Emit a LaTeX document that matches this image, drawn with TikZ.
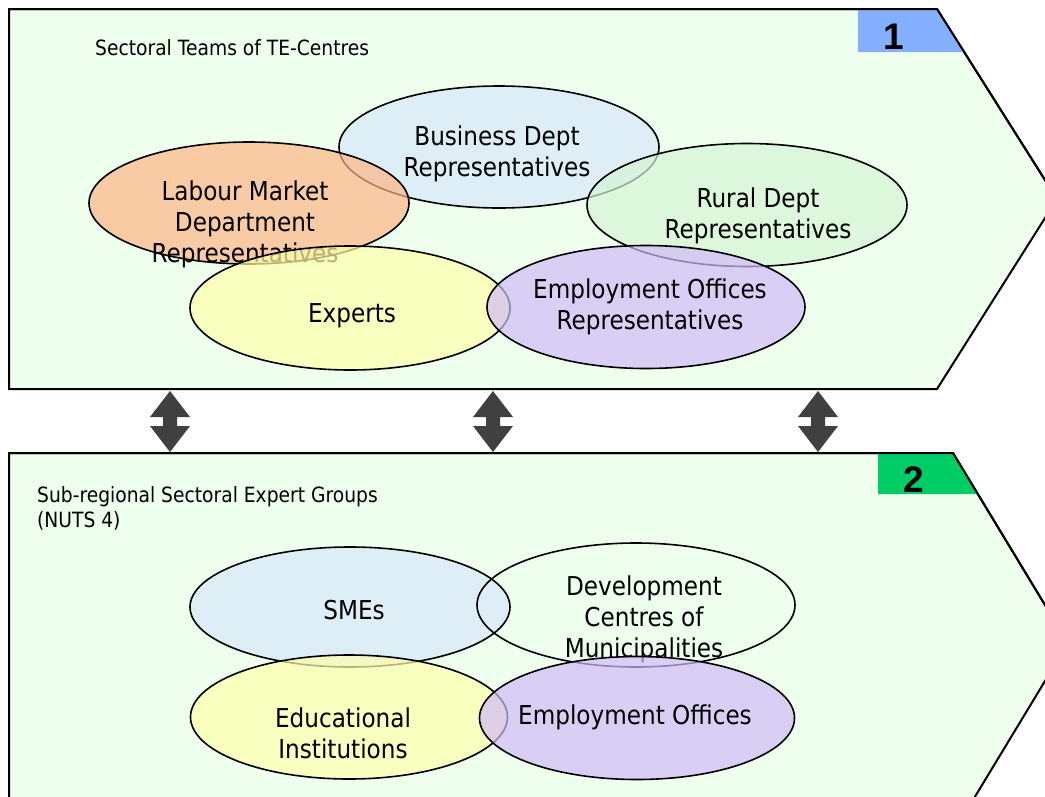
\documentclass[tikz,border=0pt]{standalone}
\usepackage{fontspec}
\setmainfont{DejaVu Sans}[FakeStretch=0.89]
\newfontfamily\numfont{Liberation Sans}
\usetikzlibrary{shapes, positioning}
\definecolor{panelbg}{RGB}{238,255,238}
\definecolor{tagblue}{RGB}{132,176,255}
\definecolor{taggreen}{RGB}{0,204,102}
\definecolor{arrowgrey}{RGB}{64,64,64}
\definecolor{bluefill}{RGB}{215,231,252}
\definecolor{orangefill}{RGB}{254,181,134}
\definecolor{greenfill}{RGB}{215,245,215}
\definecolor{yellowfill}{RGB}{255,255,172}
\definecolor{lilacfill}{RGB}{209,188,247}
\tikzset{x=1pt, y=-1pt,
    panel/.style={draw, line width=2pt, fill=panelbg},
    blob/.style={ellipse, draw, line width=1.6pt, fill opacity=0.7, minimum width=320pt, minimum height=122pt, inner sep=0pt},
    blobtext/.style={align=center, inner sep=0pt, font=\fontsize{26}{31}\selectfont},
    title/.style={align=left, inner sep=0pt, font=\fontsize{21}{25}\selectfont},
    tagnum/.style={inner sep=0pt, font=\numfont\bfseries\fontsize{37}{37}\selectfont}}

\begin{document}
\begin{tikzpicture}
    \useasboundingbox (0,0) rectangle (1045,796);
    \clip (0,0) rectangle (1045,796);

    % panels
    \draw[panel] (9,9) -- (937,9) -- (1057,199) -- (937,389) -- (9,389) -- cycle;
    \draw[panel] (9,453) -- (953,453) -- (1068,643) -- (953,833) -- (9,833) -- cycle;
    \fill[tagblue] (858,10) -- (937,10) -- (964,52) -- (858,52) -- cycle;
    \fill[taggreen] (878,454) -- (953,454) -- (978,494) -- (878,494) -- cycle;
    \draw[line width=2pt] (9,9) -- (937,9) -- (1057,199);
    \draw[line width=2pt] (9,453) -- (953,453) -- (1068,643);
    \node[tagnum] (one) at (894,37) {1};
    \node[tagnum] (two) at (914,480) {2};

    \node[title, anchor=base west] (teams) at (95,55) {Sectoral Teams of TE-Centres};
    \node[title, anchor=north west] (groups) at (37,486) {Sub-regional Sectoral Expert Groups\\(NUTS 4)};

    % arrows between the panels
    \foreach \x in {170,493,818}
        \fill[arrowgrey] (\x,391) -- (\x+20,417) -- (\x+7,417) -- (\x+7,426) -- (\x+20,426) -- (\x,452)
            -- (\x-20,426) -- (\x-7,426) -- (\x-7,417) -- (\x-20,417) -- cycle;

    % panel 1
    \node[blob, fill=bluefill] (business) at (499,147) {};
    \node[blobtext] (businesstxt) at (497,154) {Business Dept\\Representatives};
    \node[blob, fill=orangefill] (labour) at (249,203) {};
    \node[blobtext] (labourtxt) at (245,224) {Labour Market\\Department\\Representatives};
    \node[blob, fill=greenfill, minimum height=123pt] (rural) at (747,205) {};
    \node[blobtext] (ruraltxt) at (758,216) {Rural Dept\\Representatives};
    \node[blob, fill=yellowfill, minimum height=124pt] (experts) at (350,308) {};
    \node[blobtext] (expertstxt) at (352,316) {Experts};
    \node[blob, fill=lilacfill, minimum width=318pt, minimum height=123pt] (emplrep) at (646,307) {};
    \node[blobtext] (emplreptxt) at (650,307) {Employment Offices\\Representatives};

    % panel 2
    \node[blob, fill=bluefill, minimum height=120pt] (smes) at (350,607) {};
    \node[blobtext] (smestxt) at (354,610) {SMEs};
    \node[blob, fill=none, minimum width=318pt, minimum height=124pt] (devcentres) at (636,605) {};
    \node[blobtext] (devcentrestxt) at (644,619) {Development\\Centres of\\Municipalities};
    \node[blob, fill=yellowfill, minimum width=317pt, minimum height=124pt] (education) at (349,717) {};
    \node[blobtext] (educationtxt) at (343,733) {Educational\\Institutions};
    \node[blob, fill=lilacfill, minimum width=315pt, minimum height=123pt] (emploff) at (637,718) {};
    \node[blobtext] (emplofftxt) at (635,717) {Employment Offices};
\end{tikzpicture}
\end{document}
